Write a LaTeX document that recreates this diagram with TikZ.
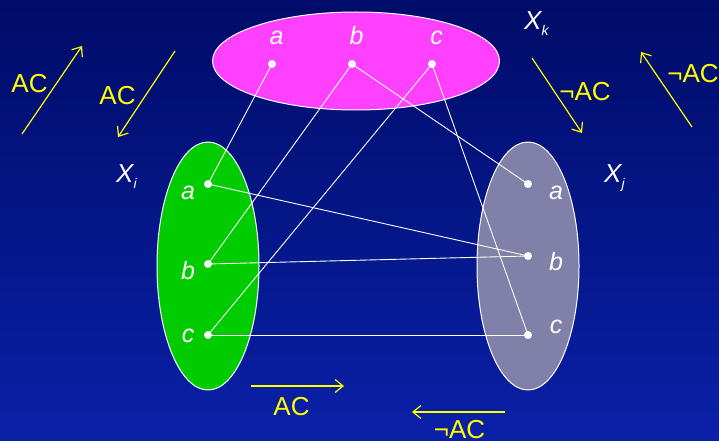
\documentclass[tikz,border=0pt]{standalone}
\usepackage{fontspec}
\setmainfont{Liberation Sans}
\usetikzlibrary{arrows.meta,shapes.geometric}
\definecolor{bgtop}{RGB}{0,12,104}
\definecolor{bgbot}{RGB}{10,32,168}
\definecolor{setpink}{RGB}{255,64,255}
\definecolor{setgreen}{RGB}{0,204,0}
\definecolor{setgray}{RGB}{128,128,168}
\definecolor{acyellow}{RGB}{255,255,0}
\begin{document}
\begin{tikzpicture}[x=1pt,y=-1pt,
  setshape/.style={ellipse, draw=white, line width=1pt, inner sep=0pt},
  dot/.style={circle, fill=white, minimum size=8pt, inner sep=0pt},
  lab/.style={text=white, font=\fontsize{25}{25}\selectfont\itshape, inner sep=0pt, anchor=base},
  xlab/.style={text=white, font=\fontsize{26}{26}\selectfont\itshape, inner sep=0pt, anchor=base west},
  aclab/.style={text=acyellow, font=\fontsize{26}{26}\selectfont, inner sep=0pt, anchor=base},
  link/.style={draw=white, line width=0.9pt},
  yarr/.style={draw=acyellow, line width=1.2pt, -{Straight Barb[length=8pt,width=13pt,line width=1.2pt]}}
]
\shade[top color=bgtop, bottom color=bgbot] (0,0) rectangle (719,441);
\useasboundingbox (0,0) rectangle (719,441);

% sets
\node[setshape, fill=setpink, minimum width=287pt, minimum height=98pt] (Sk) at (356,61) {};
\node[setshape, fill=setgreen, minimum width=102pt, minimum height=248pt] (Si) at (208,266) {};
\node[setshape, fill=setgray, minimum width=102pt, minimum height=248pt] (Sj) at (528,266) {};

% dots
\node[dot] (ka) at (272,64) {};
\node[dot] (kb) at (352,64) {};
\node[dot] (kc) at (432,64) {};
\node[dot] (ia) at (208,184) {};
\node[dot] (ib) at (208,264) {};
\node[dot] (ic) at (208,335) {};
\node[dot] (ja) at (528,184) {};
\node[dot] (jb) at (528,256) {};
\node[dot] (jc) at (528,335) {};

% links
\draw[link] (ka.center) -- (ia.center);
\draw[link] (kb.center) -- (ib.center);
\draw[link] (kb.center) -- (ja.center);
\draw[link] (kc.center) -- (ic.center);
\draw[link] (kc.center) -- (jc.center);
\draw[link] (ia.center) -- (jb.center);
\draw[link] (ib.center) -- (jb.center);
\draw[link] (ic.center) -- (jc.center);

% value labels
\node[lab] (lka) at (276.5,45) {a};
\node[lab] (lkb) at (356.5,45) {b};
\node[lab] (lkc) at (436.5,45) {c};
\node[lab] (lia) at (188,199) {a};
\node[lab] (lib) at (188,279) {b};
\node[lab] (lic) at (188,342) {c};
\node[lab] (lja) at (556,199) {a};
\node[lab] (ljb) at (556,270) {b};
\node[lab] (ljc) at (556,333) {c};

% variable names
\node[xlab] (xk) at (524,30) {X\raisebox{-6pt}{\fontsize{14}{14}\selectfont k}};
\node[xlab] (xi) at (116,182) {X\raisebox{-6pt}{\fontsize{14}{14}\selectfont i}};
\node[xlab] (xj) at (604,182) {X\raisebox{-6pt}{\fontsize{14}{14}\selectfont j}};

% arrows
\coordinate (a1s) at (22,134);  \coordinate (a1e) at (82,46);
\coordinate (a2s) at (175,51);  \coordinate (a2e) at (118,137);
\coordinate (a3s) at (532,58);  \coordinate (a3e) at (582,133);
\coordinate (a4s) at (692,127); \coordinate (a4e) at (641,52);
\coordinate (a5s) at (251,386); \coordinate (a5e) at (344,386);
\coordinate (a6s) at (505,412); \coordinate (a6e) at (412,412);
\draw[yarr] (a1s) -- (a1e);
\draw[yarr] (a2s) -- (a2e);
\draw[yarr] (a3s) -- (a3e);
\draw[yarr] (a4s) -- (a4e);
\draw[yarr] (a5s) -- (a5e);
\draw[yarr] (a6s) -- (a6e);

\node[aclab] (t1) at (29.5,93) {AC};
\node[aclab] (t2) at (117.5,104) {AC};
\node[aclab] (t3) at (585,100) {¬AC};
\node[aclab] (t4) at (693,83) {¬AC};
\node[aclab] (t5) at (291.5,415) {AC};
\node[aclab] (t6) at (459.5,438) {¬AC};
\end{tikzpicture}
\end{document}
